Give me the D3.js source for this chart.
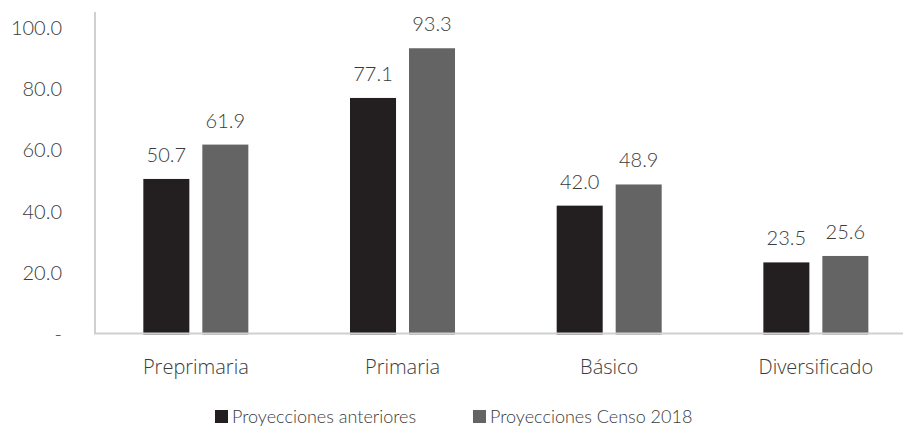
<!DOCTYPE html>
<html>
<head>
<meta charset="utf-8">
<script src="https://cdn.jsdelivr.net/npm/d3@7"></script>
<style>
  html, body { margin: 0; padding: 0; background: #ffffff; }
  svg text { font-family: "Source Sans Pro", "Lato", "Open Sans", sans-serif; font-weight: 300; fill: #3b3b3b; }
  svg .cat text { font-family: "Open Sans", "Lato", sans-serif; font-weight: 300; }
</style>
</head>
<body>
<svg id="chart" width="904" height="427"></svg>
<script>
// Education levels and the two projection series
const categories = ["Preprimaria", "Primaria", "Básico", "Diversificado"];
const seriesNames = ["Proyecciones anteriores", "Proyecciones Censo 2018"];
const anteriores = [50.7, 77.1, 42.0, 23.5];
const censo2018 = [61.9, 93.3, 48.9, 25.6];
const yTicks = [0, 20, 40, 60, 80, 100];
const yTickLabels = ["-", "20.0", "40.0", "60.0", "80.0", "100.0"];
const colors = ["#231f20", "#646464"];

const seriesValues = [anteriores, censo2018];
const rows = categories.map((c, i) => ({
  category: c,
  values: seriesNames.map((s, k) => ({ series: s, value: seriesValues[k][i], k }))
}));

const svg = d3.select("#chart");

const x = d3.scaleBand().domain(categories).range([92.5, 919.2]).padding(0);
const bw = x.bandwidth();
const xInner = d3.scaleBand().domain(seriesNames)
  .range([(bw - 105) / 2, (bw + 105) / 2]).paddingInner(0.22);
const y = d3.scaleLinear().domain([0, 100]).range([334.5, 27.7]);

// Y axis: labels only, with a plain vertical rule
const yAxis = svg.append("g").attr("transform", "translate(62,0)")
  .call(d3.axisLeft(y).tickValues(yTicks).tickSize(0).tickPadding(0)
    .tickFormat((d, i) => yTickLabels[i]));
yAxis.select(".domain").remove();
yAxis.selectAll("text").style("font-size", "20px")
  .attr("font-family", null).attr("fill", null);

svg.append("line").attr("x1", 95).attr("x2", 95).attr("y1", 12).attr("y2", 334)
  .attr("stroke", "#d0d0d0").attr("stroke-width", 2);

// Bars
const groups = svg.append("g").selectAll("g").data(rows).join("g")
  .attr("transform", d => `translate(${x(d.category)},0)`);

groups.selectAll("rect").data(d => d.values).join("rect")
  .attr("x", d => xInner(d.series))
  .attr("width", xInner.bandwidth())
  .attr("y", d => y(d.value))
  .attr("height", d => y(0) - y(d.value))
  .attr("fill", d => colors[d.k]);

groups.selectAll("text.val").data(d => d.values).join("text")
  .attr("class", "val")
  .attr("x", d => xInner(d.series) + xInner.bandwidth() / 2)
  .attr("y", d => y(d.value) - 17)
  .attr("text-anchor", "middle")
  .style("font-size", "20px")
  .text(d => d.value.toFixed(1));

// Baseline
svg.append("line").attr("x1", 94).attr("x2", 903).attr("y1", 333.5).attr("y2", 333.5)
  .attr("stroke", "#d0d0d0").attr("stroke-width", 2);

// Category axis
const xAxis = svg.append("g").attr("class", "cat").attr("transform", "translate(0,334)")
  .call(d3.axisBottom(x).tickSize(0).tickPadding(0));
xAxis.select(".domain").remove();
xAxis.selectAll("text").style("font-size", "20px").attr("dy", null).attr("y", 40)
  .attr("font-family", null).attr("fill", null);

// Legend
const legendX = [215, 473];
const legend = svg.append("g").selectAll("g").data(seriesNames).join("g")
  .attr("transform", (d, i) => `translate(${legendX[i]},410)`);
legend.append("rect").attr("width", 13).attr("height", 13)
  .attr("fill", (d, i) => colors[i]);
legend.append("text").attr("x", 17).attr("y", 13)
  .style("font-size", "18px").text(d => d);
</script>
</body>
</html>
